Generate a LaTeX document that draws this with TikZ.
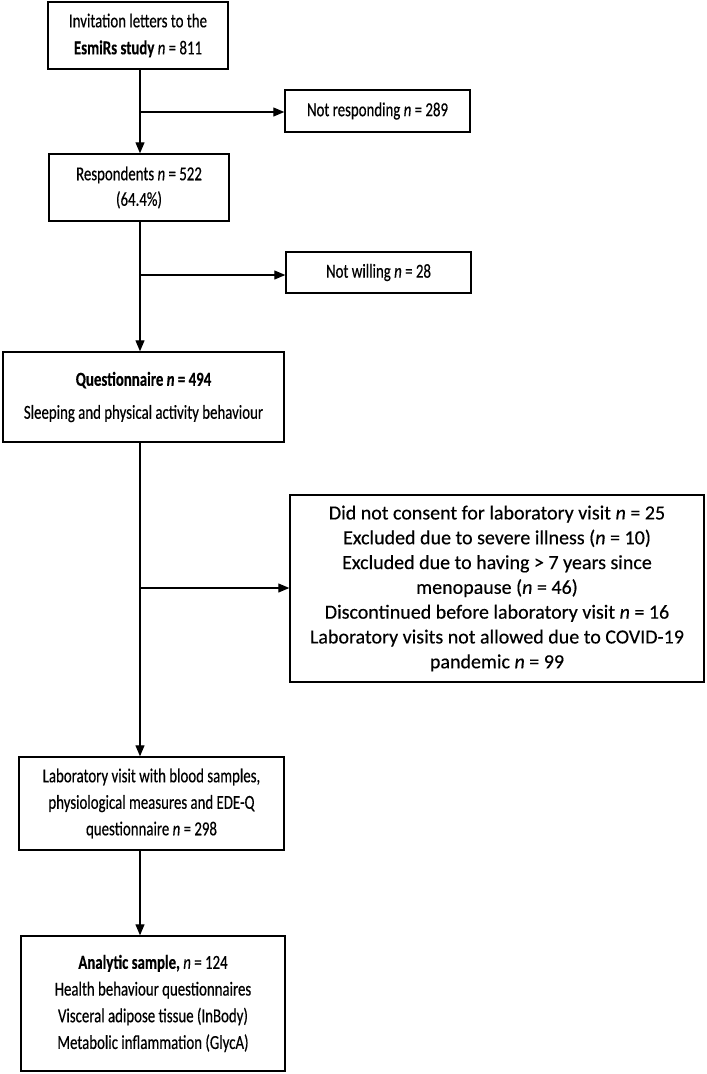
\documentclass[tikz,border=0pt]{standalone}
\usepackage{fontspec}
\setmainfont{Carlito}[FakeStretch=0.75,FakeBold=0.4]
\newfontfamily\exfont{Carlito}[FakeBold=0.4]
\usetikzlibrary{arrows.meta}
\begin{document}
\begin{tikzpicture}[x=1pt,y=-1pt,
  box/.style={draw,line width=1.4pt,inner sep=0pt,align=center,
    font=\fontsize{19.8}{26.5}\selectfont},
  arrow/.style={line width=1.1pt,-{Triangle[length=11pt,width=9pt]}}]
\useasboundingbox (0,0) rectangle (707,1074);
\node[box,minimum width=180pt,minimum height=67pt,font=\fontsize{19.8}{27}\selectfont] (b1) at (138,35.5)
  {Invitation letters to the\\\textbf{EsmiRs study} \textit{n} = 811};
\node[box,minimum width=185pt,minimum height=42pt] (b2) at (377.5,111)
  {Not responding \textit{n} = 289};
\node[box,minimum width=180pt,minimum height=67pt,font=\fontsize{19.8}{25.5}\selectfont] (b3) at (139,187.5)
  {Respondents \textit{n} = 522\\(64.4\%)};
\node[box,minimum width=185pt,minimum height=41pt] (b4) at (378.5,272.5)
  {Not willing \textit{n} = 28};
\node[box,minimum width=281pt,minimum height=90pt] (b5) at (143.5,397)
  {\textbf{Questionnaire \textit{n} = 494}\\[6.5pt]Sleeping and physical activity behaviour};
\node[box,minimum width=414pt,minimum height=187pt,font=\exfont\fontsize{20}{24.8}\selectfont] (b6) at (497,588.5)
  {Did not consent for laboratory visit \textit{n} = 25\\
   Excluded due to severe illness (\textit{n} = 10)\\
   Excluded due to having > 7 years since\\
   menopause (\textit{n} = 46)\\
   Discontinued before laboratory visit \textit{n} = 16\\
   Laboratory visits not allowed due to COVID-19\\
   pandemic \textit{n} = 99};
\node[box,minimum width=265pt,minimum height=93pt] (b7) at (151.5,803.5)
  {Laboratory visit with blood samples,\\physiological measures and EDE-Q\\questionnaire \textit{n} = 298};
\node[box,minimum width=264pt,minimum height=135pt,font=\fontsize{19.8}{26.7}\selectfont] (b8) at (153,1003.5)
  {\textbf{Analytic sample,} \textit{n} = 124\\Health behaviour questionnaires\\Visceral adipose tissue (InBody)\\Metabolic inflammation (GlycA)};
\coordinate (t) at (140,0);
\coordinate (j1) at (140,112);
\coordinate (j2) at (140,275);
\coordinate (j3) at (140,588);
\draw[arrow] (b1.south -| t) -- (b3.north -| t);
\draw[arrow] (b3.south -| t) -- (b5.north -| t);
\draw[arrow] (b5.south -| t) -- (b7.north -| t);
\draw[arrow] (b7.south -| t) -- (b8.north -| t);
\draw[arrow] (j1) -- (j1 -| b2.west);
\draw[arrow] (j2) -- (j2 -| b4.west);
\draw[arrow] (j3) -- (j3 -| b6.west);
\end{tikzpicture}
\end{document}
